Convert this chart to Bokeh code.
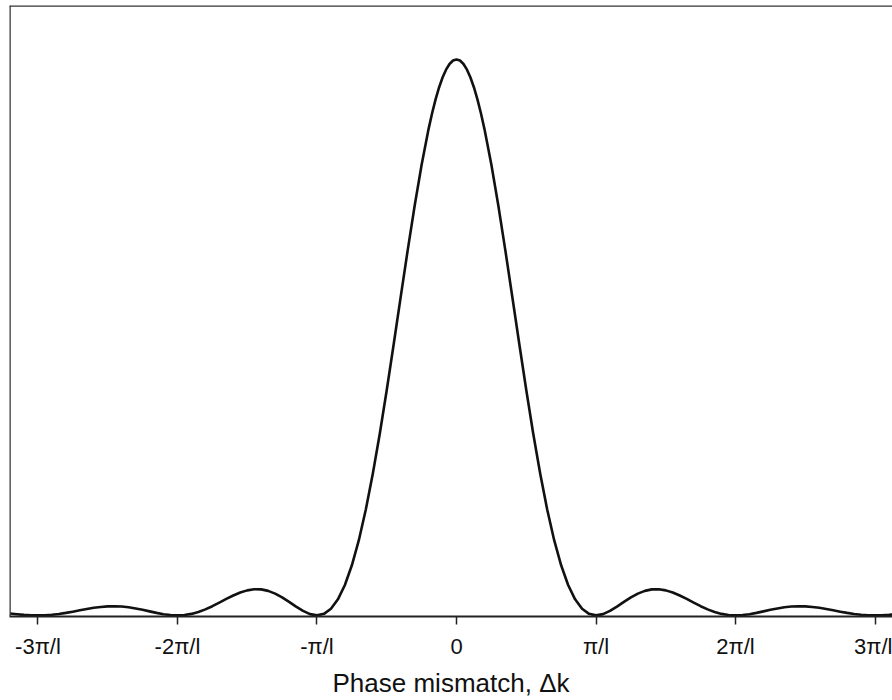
from bokeh.plotting import figure
from bokeh.models import Span, FixedTicker, Range1d
from bokeh.embed import file_html
from bokeh.resources import INLINE

# Phase mismatch in units of pi/l
dk = [-3.2, -3.15, -3.1, -3.05, -3.0, -2.95, -2.9, -2.85, -2.8, -2.75,
      -2.7, -2.65, -2.6, -2.55, -2.5, -2.45, -2.4, -2.35, -2.3, -2.25,
      -2.2, -2.15, -2.1, -2.05, -2.0, -1.95, -1.9, -1.85, -1.8, -1.75,
      -1.7, -1.65, -1.6, -1.55, -1.5, -1.45, -1.4, -1.35, -1.3, -1.25,
      -1.2, -1.15, -1.1, -1.05, -1.0, -0.95, -0.9, -0.85, -0.8, -0.75,
      -0.7, -0.65, -0.6, -0.55, -0.5, -0.45, -0.4, -0.35, -0.3, -0.25,
      -0.2, -0.175, -0.15, -0.125, -0.1, -0.075, -0.05, -0.025, 0.0,
      0.025, 0.05, 0.075, 0.1, 0.125, 0.15, 0.175, 0.2, 0.25,
      0.3, 0.35, 0.4, 0.45, 0.5, 0.55, 0.6, 0.65, 0.7, 0.75,
      0.8, 0.85, 0.9, 0.95, 1.0, 1.05, 1.1, 1.15, 1.2, 1.25,
      1.3, 1.35, 1.4, 1.45, 1.5, 1.55, 1.6, 1.65, 1.7, 1.75,
      1.8, 1.85, 1.9, 1.95, 2.0, 2.05, 2.1, 2.15, 2.2, 2.25,
      2.3, 2.35, 2.4, 2.45, 2.5, 2.55, 2.6, 2.65, 2.7, 2.75,
      2.8, 2.85, 2.9, 2.95, 3.0, 3.05, 3.1, 3.15, 3.2]

# Relative intensity
intensity = [0.0034, 0.0021, 0.0010, 0.0003, 0.0, 0.0003, 0.0012, 0.0026, 0.0045, 0.0067,
             0.0091, 0.0115, 0.0136, 0.0152, 0.0162, 0.0165, 0.0159, 0.0146, 0.0125, 0.0100,
             0.0072, 0.0045, 0.0022, 0.0006, 0.0, 0.0007, 0.0027, 0.0061, 0.0108, 0.0165,
             0.0230, 0.0296, 0.0358, 0.0411, 0.0450, 0.0470, 0.0468, 0.0441, 0.0392, 0.0324,
             0.0243, 0.0158, 0.0080, 0.0023, 0.0, 0.0028, 0.0119, 0.0289, 0.0547, 0.0901,
             0.1353, 0.1904, 0.2546, 0.3268, 0.4053, 0.4881, 0.5728, 0.6566, 0.7368, 0.8106,
             0.8751, 0.9032, 0.9281, 0.9496, 0.9675, 0.9816, 0.9918, 0.9980, 1.0,
             0.9980, 0.9918, 0.9816, 0.9675, 0.9496, 0.9281, 0.9032, 0.8751, 0.8106,
             0.7368, 0.6566, 0.5728, 0.4881, 0.4053, 0.3268, 0.2546, 0.1904, 0.1353, 0.0901,
             0.0547, 0.0289, 0.0119, 0.0028, 0.0, 0.0023, 0.0080, 0.0158, 0.0243, 0.0324,
             0.0392, 0.0441, 0.0468, 0.0470, 0.0450, 0.0411, 0.0358, 0.0296, 0.0230, 0.0165,
             0.0108, 0.0061, 0.0027, 0.0007, 0.0, 0.0006, 0.0022, 0.0045, 0.0072, 0.0100,
             0.0125, 0.0146, 0.0159, 0.0165, 0.0162, 0.0152, 0.0136, 0.0115, 0.0091, 0.0067,
             0.0045, 0.0026, 0.0012, 0.0003, 0.0, 0.0003, 0.0010, 0.0021, 0.0034]

tick_pos = [-3, -2, -1, 0, 1, 2, 3]
tick_labels = ["-3π/l", "-2π/l", "-π/l", "0", "π/l", "2π/l", "3π/l"]

x0, x1 = -3.204, 3.125
y0, y1 = -0.002, 1.097

p = figure(width=892, height=700, output_backend="svg", toolbar_location=None,
           x_range=Range1d(x0, x1), y_range=Range1d(y0, y1),
           min_border_left=9, min_border_top=5, min_border_right=0, min_border_bottom=83)
p.outline_line_color = None
p.grid.visible = False
p.yaxis.visible = False
p.background_fill_color = "white"
p.border_fill_color = "white"

p.line(dk, intensity, line_color="#111111", line_width=2.6, line_join="round")

ax = p.xaxis[0]
ax.ticker = FixedTicker(ticks=tick_pos)
ax.major_label_overrides = {t: l for t, l in zip(tick_pos, tick_labels)}
ax.minor_tick_line_color = None
ax.major_tick_in = 0
ax.major_tick_out = 8
ax.major_tick_line_width = 1.5
ax.major_tick_line_color = "#222222"
ax.axis_line_width = 2
ax.axis_line_color = "#222222"
ax.major_label_text_font = "Liberation Sans"
ax.major_label_text_font_size = "22px"
ax.major_label_text_color = "#111111"
ax.major_label_standoff = 9
ax.axis_label = "Phase mismatch, Δk"
ax.axis_label_text_font = "Liberation Sans"
ax.axis_label_text_font_size = "26px"
ax.axis_label_text_font_style = "normal"
ax.axis_label_text_color = "#111111"
ax.axis_label_standoff = 6

p.add_layout(Span(location=x0, dimension="height", line_color="#333333", line_width=2.5))
p.add_layout(Span(location=y1, dimension="width", line_color="#333333", line_width=2.5))

open("out.html", "w").write(file_html(p, INLINE))
